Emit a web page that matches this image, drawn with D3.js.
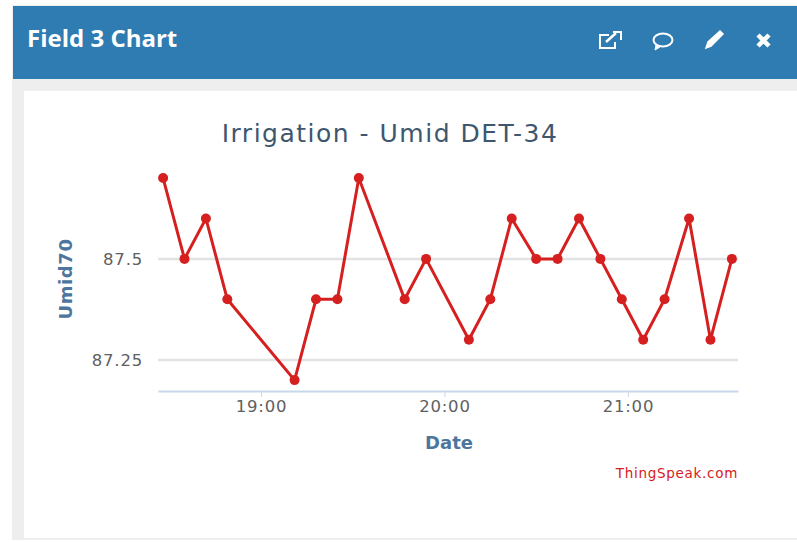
<!DOCTYPE html>
<html lang="en">
<head>
    <meta charset="UTF-8">
    <title>Field 3 Chart</title>
    <style>
        html, body { margin: 0; padding: 0; background: #fff; overflow: hidden; }
        svg { display: block; }
        text { font-family: "DejaVu Sans", sans-serif; }
    </style>
</head>
<body>
    <svg id="chart" width="797" height="542"></svg>
    <script src="https://d3js.org/d3.v7.min.js"></script>
    <script>
        var times = ["18:28", "18:35", "18:42", "18:49", "19:11", "19:18", "19:25", "19:32",
                     "19:47", "19:54", "20:08", "20:15", "20:22", "20:30", "20:37", "20:44",
                     "20:51", "20:58", "21:05", "21:12", "21:20", "21:27", "21:34"];
        var values = [87.7, 87.5, 87.6, 87.4, 87.2, 87.4, 87.4, 87.7,
                      87.4, 87.5, 87.3, 87.4, 87.6, 87.5, 87.5, 87.6,
                      87.5, 87.4, 87.3, 87.4, 87.6, 87.3, 87.5];
        var yTicks = [87.25, 87.5];
        var xTicks = ["19:00", "20:00", "21:00"];

        var parseTime = d3.timeParse("%H:%M");
        var formatTime = d3.timeFormat("%H:%M");
        var data = times.map(function(t, i) { return { date: parseTime(t), value: values[i] }; });

        var svg = d3.select("#chart");

        // Panel background
        svg.append("rect").attr("x", 12).attr("y", 5).attr("width", 785).attr("height", 535).attr("fill", "#eeeeee");
        svg.append("rect").attr("x", 13).attr("y", 6).attr("width", 784).attr("height", 73).attr("fill", "#2e7cb1");
        svg.append("rect").attr("x", 24).attr("y", 91).attr("width", 773).attr("height", 447).attr("fill", "#ffffff");

        svg.append("text")
           .attr("x", 27).attr("y", 47)
           .style("font-family", "'Open Sans', sans-serif")
           .style("font-size", "24px")
           .style("font-weight", 700)
           .style("fill", "#ffffff")
           .text("Field 3 Chart");

        // Header icons
        var icons = svg.append("g").attr("fill", "none").attr("stroke", "#ffffff").attr("stroke-width", 2);
        icons.append("path").attr("d", "M609 35h-9v13h15v-6");
        icons.append("path").attr("d", "M606 42l10-9").attr("stroke-width", 2.5);
        icons.append("path").attr("d", "M613 32h8v8").attr("stroke-width", 2);
        icons.append("ellipse").attr("cx", 663).attr("cy", 40).attr("rx", 9.5).attr("ry", 6.5);
        icons.append("path").attr("d", "M656 45l-1 5 5-3").attr("fill", "#ffffff").attr("stroke-width", 1);
        icons.append("path").attr("d", "M706 48l2-6 12-11 3 3-12 12z").attr("fill", "#ffffff").attr("stroke-width", 1.5);
        icons.append("path").attr("d", "M758 35l11 11M769 35l-11 11").attr("stroke-width", 4.5);

        // Scales
        var x = d3.scaleTime()
                  .domain([d3.timeSecond.offset(parseTime("18:26"), 20), parseTime("21:36")])
                  .range([158, 738]);
        var y = d3.scaleLinear()
                  .domain([87.173, 87.72])
                  .range([391, 170]);

        // Gridlines
        svg.append("g")
           .selectAll("line")
           .data(yTicks)
           .enter().append("line")
           .attr("x1", x.range()[0])
           .attr("x2", x.range()[1])
           .attr("y1", function(d) { return y(d); })
           .attr("y2", function(d) { return y(d); })
           .attr("stroke", "#e2e2e2")
           .attr("stroke-width", 2.5);

        // Values on Y Axis
        var yAxis = svg.append("g")
           .attr("transform", "translate(158,0)")
           .call(d3.axisLeft(y).tickValues(yTicks).tickSize(0).tickPadding(15).tickFormat(d3.format("")));
        yAxis.select(".domain").remove();
        yAxis.selectAll("text")
             .style("font-size", "16.5px")
             .style("letter-spacing", "0.8px")
             .style("fill", "#606060");

        // Values on X Axis
        var xAxis = svg.append("g")
           .attr("transform", "translate(0,391)")
           .call(d3.axisBottom(x).tickValues(xTicks.map(parseTime)).tickSize(6).tickSizeOuter(0).tickPadding(3).tickFormat(formatTime));
        xAxis.select(".domain").attr("stroke", "#c8d8e8").attr("stroke-width", 2);
        xAxis.selectAll("line").attr("stroke", "#c8d8e8");
        xAxis.selectAll("text")
             .style("font-size", "16.5px")
             .style("letter-spacing", "0.8px")
             .style("fill", "#606060");

        // Line and points
        var line = d3.line()
                     .x(function(d) { return x(d.date); })
                     .y(function(d) { return y(d.value); });

        svg.append("path")
           .datum(data)
           .attr("d", line)
           .attr("fill", "none")
           .attr("stroke", "#d62020")
           .attr("stroke-width", 3);

        svg.selectAll(".dot")
           .data(data)
           .enter().append("circle")
           .attr("class", "dot")
           .attr("cx", function(d) { return x(d.date); })
           .attr("cy", function(d) { return y(d.value); })
           .attr("r", 5)
           .attr("fill", "#d62020");

        // Title and labels
        svg.append("text")
           .attr("x", 390).attr("y", 142)
           .style("text-anchor", "middle")
           .style("font-size", "25px")
           .style("letter-spacing", "1.5px")
           .style("fill", "#3e576f")
           .text("Irrigation - Umid DET-34");

        svg.append("text")
           .attr("transform", "translate(72,279) rotate(-90)")
           .style("text-anchor", "middle")
           .style("font-size", "18px")
           .style("letter-spacing", "0.6px")
           .style("font-weight", "bold")
           .style("fill", "#4d759e")
           .text("Umid70");

        svg.append("text")
           .attr("x", 449).attr("y", 449)
           .style("text-anchor", "middle")
           .style("font-size", "18px")
           .style("font-weight", "bold")
           .style("fill", "#4d759e")
           .text("Date");

        svg.append("text")
           .attr("x", 738).attr("y", 478)
           .style("text-anchor", "end")
           .style("font-size", "13.5px")
           .style("letter-spacing", "0.7px")
           .style("fill", "#d62020")
           .text("ThingSpeak.com");
    </script>
</body>
</html>
